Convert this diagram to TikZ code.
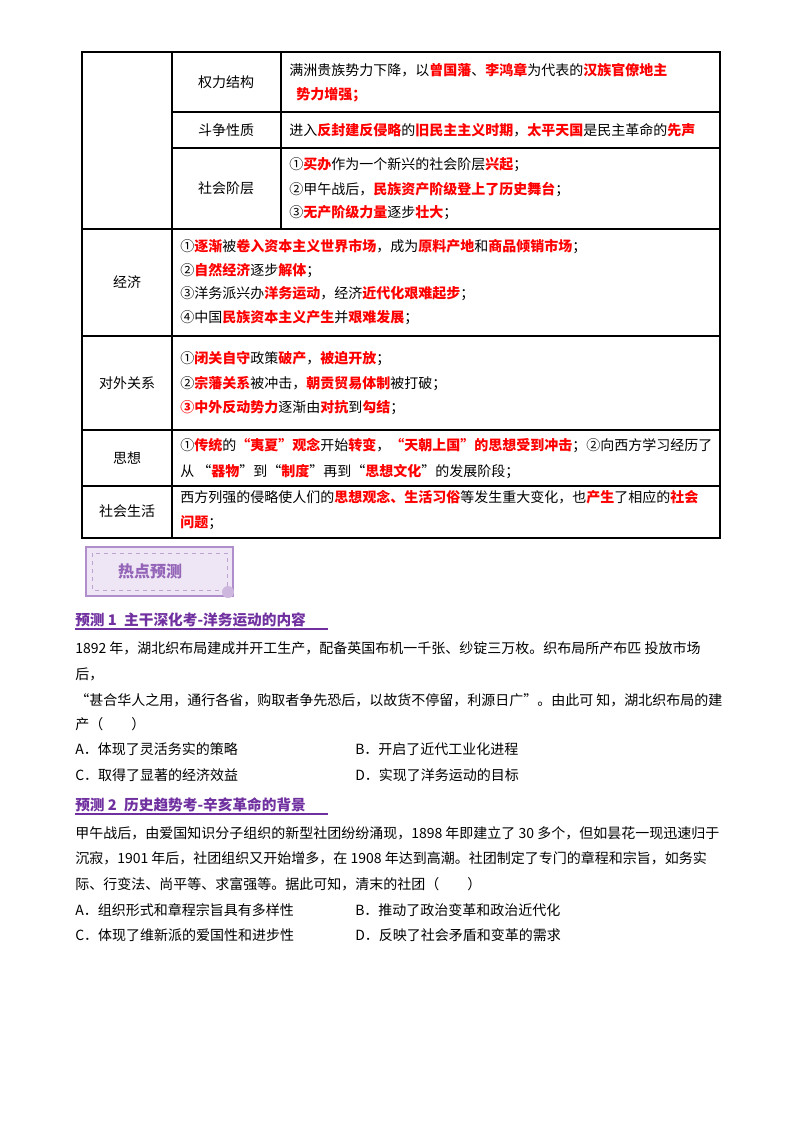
\documentclass[tikz,border=0pt]{standalone}
\usepackage{fontspec}
\setmainfont{Noto Sans CJK SC}
\newcommand{\Rd}[1]{{\bfseries\color{red}#1}}
\definecolor{pur}{HTML}{7030A0}
\begin{document}
\begin{tikzpicture}[x=0.75pt,y=-0.75pt,
  tx/.style={anchor=base west,inner sep=0,font=\fontsize{10.5}{12}\selectfont},
  lbl/.style={anchor=center,inner sep=0,font=\fontsize{10.5}{12}\selectfont},
  grid/.style={line width=0.8pt}]
\useasboundingbox (0,0) rectangle (800,1132);
\fill[white] (0,0) rectangle (800,1132);
% table
\draw[grid] (82,52) rectangle (720,538);
\draw[grid] (172,52) -- (172,538);
\draw[grid] (281,52) -- (281,229);
\draw[grid] (172,112) -- (720,112);
\draw[grid] (172,148) -- (720,148);
\foreach \y in {229,336,430,486} \draw[grid] (82,\y) -- (720,\y);
% labels
\node[lbl] (l1) at (226,82) {权力结构};
\node[lbl] (l2) at (226,130) {斗争性质};
\node[lbl] (l3) at (226,188) {社会阶层};
\node[lbl] (l4) at (127,282) {经济};
\node[lbl] (l5) at (127,383) {对外关系};
\node[lbl] (l6) at (127,458) {思想};
\node[lbl] (l7) at (127,511) {社会生活};
% row texts
\node[tx] (a1) at (289,75) {满洲贵族势力下降，以\Rd{曾国藩}、\Rd{李鸿章}为代表的\Rd{汉族官僚地主}};
\node[tx] (a2) at (296,99) {\Rd{势力增强；}};
\node[tx] (b1) at (289,135) {进入\Rd{反封建反侵略}的\Rd{旧民主主义时期}，\Rd{太平天国}是民主革命的\Rd{先声}};
\node[tx] (c1) at (289,169) {①\Rd{买办}作为一个新兴的社会阶层\Rd{兴起}；};
\node[tx] (c2) at (289,194) {②甲午战后，\Rd{民族资产阶级登上了历史舞台}；};
\node[tx] (c3) at (289,217) {③\Rd{无产阶级力量}逐步\Rd{壮大}；};
\node[tx] (d1) at (180,251) {①\Rd{逐渐}被\Rd{卷入资本主义世界市场}，成为\Rd{原料产地}和\Rd{商品倾销市场}；};
\node[tx] (d2) at (180,275) {②\Rd{自然经济}逐步\Rd{解体}；};
\node[tx] (d3) at (180,298) {③洋务派兴办\Rd{洋务运动}，经济\Rd{近代化艰难起步}；};
\node[tx] (d4) at (180,322) {④中国\Rd{民族资本主义产生}并\Rd{艰难发展}；};
\node[tx] (e1) at (180,363) {①\Rd{闭关自守}政策\Rd{破产}，\Rd{被迫开放}；};
\node[tx] (e2) at (180,388) {②\Rd{宗藩关系}被冲击，\Rd{朝贡贸易体制}被打破；};
\node[tx] (e3) at (180,412) {\Rd{③中外反动势力}逐渐由\Rd{对抗}到\Rd{勾结}；};
\node[tx] (f1) at (180,450) {①\Rd{传统}的\Rd{“夷夏”观念}开始\Rd{转变}，\Rd{“天朝上国”的思想受到冲击}；②向西方学习经历了};
\node[tx] (f2) at (180,476) {从 “\Rd{器物}”到“\Rd{制度}”再到“\Rd{思想文化}”的发展阶段；};
\node[tx] (g1) at (180,502) {西方列强的侵略使人们的\Rd{思想观念、生活习俗}等发生重大变化，也\Rd{产生}了相应的\Rd{社会}};
\node[tx] (g2) at (180,527) {\Rd{问题}；};
% badge
\fill[pur!12] (86,547) rectangle (233,596);
\draw[pur!55,line width=1.5pt] (86,547) rectangle (233,596);
\draw[pur!45,dashed] (92,553) rectangle (227,590);
\fill[pur!35] (228,592) circle (6);
\node[lbl,text=pur!75,font=\fontsize{12}{14}\selectfont\bfseries] (badge) at (150,571) {热点预测};
% question 1
\node[tx,text=pur,font=\fontsize{11}{13}\selectfont\bfseries] (q1) at (75,625) {预测 1\enspace 主干深化考-洋务运动的内容};
\draw[pur,line width=0.8pt] (75,629) -- (328,629);
\node[tx] (p1) at (75,653) {1892 年，湖北织布局建成并开工生产，配备英国布机一千张、纱锭三万枚。织布局所产布匹\ 投放市场};
\node[tx] (p2) at (75,679) {后，};
\node[tx] (p3) at (75,705) {“甚合华人之用，通行各省，购取者争先恐后，以故货不停留，利源日广”。由此可\ 知，湖北织布局的建};
\node[tx] (p4) at (75,729) {产（\qquad）};
\node[tx] (oa) at (75,754) {A．体现了灵活务实的策略};
\node[tx] (ob) at (355,754) {B．开启了近代工业化进程};
\node[tx] (oc) at (75,780) {C．取得了显著的经济效益};
\node[tx] (od) at (355,780) {D．实现了洋务运动的目标};
% question 2
\node[tx,text=pur,font=\fontsize{11}{13}\selectfont\bfseries] (q2) at (75,810) {预测 2\enspace 历史趋势考-辛亥革命的背景};
\draw[pur,line width=0.8pt] (75,814) -- (328,814);
\node[tx] (s1) at (75,838) {甲午战后，由爱国知识分子组织的新型社团纷纷涌现，1898 年即建立了 30 多个，但如昙花一现迅速归于};
\node[tx] (s2) at (75,863) {沉寂，1901 年后，社团组织又开始增多，在 1908 年达到高潮。社团制定了专门的章程和宗旨，如务实};
\node[tx] (s3) at (75,889) {际、行变法、尚平等、求富强等。据此可知，清末的社团（\qquad）};
\node[tx] (ta) at (75,915) {A．组织形式和章程宗旨具有多样性};
\node[tx] (tb) at (355,915) {B．推动了政治变革和政治近代化};
\node[tx] (tc) at (75,940) {C．体现了维新派的爱国性和进步性};
\node[tx] (td) at (355,940) {D．反映了社会矛盾和变革的需求};
\end{tikzpicture}
\end{document}
